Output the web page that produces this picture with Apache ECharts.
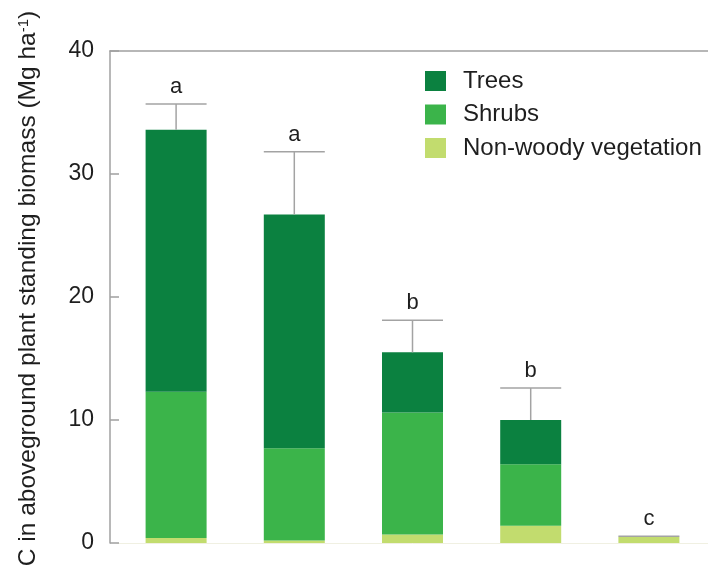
<!DOCTYPE html>
<html>
<head>
<meta charset="utf-8">
<script src="https://cdn.jsdelivr.net/npm/echarts@6/dist/echarts.min.js"></script>
<style>
  html, body { margin: 0; padding: 0; background: #ffffff; }
  #chart { width: 708px; height: 570px; }
</style>
</head>
<body>
<div id="chart"></div>
<script>
// Carbon stocks in aboveground standing biomass, by stand (Mg ha-1)
const categories = ['1', '2', '3', '4', '5'];
const trees      = [21.3, 19.0, 4.9, 3.6, 0];
const shrubs     = [11.9, 7.5, 9.9, 5.0, 0];
const nonWoody   = [0.4, 0.2, 0.7, 1.4, 0.5];
const errUpper   = [2.1, 5.1, 2.6, 2.6, 0.05];
const letters    = ['a', 'a', 'b', 'b', 'c'];
const yTicks     = { min: 0, max: 40, interval: 10 };

const totals = categories.map((_, i) => trees[i] + shrubs[i] + nonWoody[i]);
const errData = categories.map((_, i) => [i, totals[i], totals[i] + errUpper[i]]);

const BAR_W = 61;
const FONT = '"Liberation Sans", Arial, Helvetica, sans-serif';
const AXIS_GREY = '#a0a0a0';
const INK = '#1e1e1e';

const chart = echarts.init(document.getElementById('chart'), null, { renderer: 'canvas' });

chart.setOption({
  animation: false,
  backgroundColor: '#ffffff',
  textStyle: { fontFamily: FONT },
  grid: [
    { left: 117, right: 0, top: 51, bottom: 27, outerBoundsMode: 'none', containLabel: false },
    { left: 110, right: -20, top: 51, bottom: 27, outerBoundsMode: 'none', containLabel: false }
  ],
  legend: {
    orient: 'vertical',
    left: 425,
    top: 69,
    padding: 0,
    itemWidth: 21,
    itemHeight: 20,
    itemGap: 9.5,
    icon: 'rect',
    data: ['Trees', 'Shrubs', 'Non-woody vegetation'],
    textStyle: { fontFamily: FONT, fontSize: 24, color: INK, lineHeight: 24, padding: [0, 0, 0, 12] }
  },
  xAxis: [
    {
      type: 'category',
      gridIndex: 0,
      data: categories,
      axisLine: { show: true, lineStyle: { color: '#f0f0e2', width: 1 } },
      axisTick: { show: false },
      axisLabel: { show: false },
      splitLine: { show: false }
    },
    {
      type: 'value',
      gridIndex: 1,
      position: 'top',
      min: 0, max: 1,
      axisLine: { show: true, onZero: false, lineStyle: { color: AXIS_GREY, width: 1.5 } },
      axisTick: { show: false },
      axisLabel: { show: false },
      splitLine: { show: false }
    }
  ],
  yAxis: [
    {
      type: 'value',
      gridIndex: 0,
      min: yTicks.min, max: yTicks.max, interval: yTicks.interval,
      show: false,
      splitLine: { show: false }
    },
    {
      type: 'value',
      gridIndex: 1,
      min: yTicks.min, max: yTicks.max, interval: yTicks.interval,
      axisLine: { show: true, lineStyle: { color: AXIS_GREY, width: 1.5 } },
      axisTick: { show: true, inside: true, length: 9, lineStyle: { color: AXIS_GREY, width: 1.5 } },
      axisLabel: { fontFamily: FONT, fontSize: 23, color: INK, margin: 16 },
      splitLine: { show: false },
      name: 'C in aboveground plant standing biomass (Mg ha{sup|-1})',
      nameLocation: 'middle',
      nameGap: 69,
      nameTextStyle: {
        fontFamily: FONT,
        fontSize: 24.5,
        color: INK,
        padding: [0, 0, 0, 17],
        rich: {
          sup: { fontFamily: FONT, fontSize: 15, color: INK, padding: [0, 0, 10, 0] }
        }
      }
    }
  ],
  series: [
    {
      name: 'Non-woody vegetation',
      type: 'bar',
      stack: 'biomass',
      barWidth: BAR_W,
      xAxisIndex: 0, yAxisIndex: 0,
      itemStyle: { color: '#c2dc6e' },
      data: nonWoody
    },
    {
      name: 'Shrubs',
      type: 'bar',
      stack: 'biomass',
      barWidth: BAR_W,
      xAxisIndex: 0, yAxisIndex: 0,
      itemStyle: { color: '#3bb44a' },
      data: shrubs
    },
    {
      name: 'Trees',
      type: 'bar',
      stack: 'biomass',
      barWidth: BAR_W,
      xAxisIndex: 0, yAxisIndex: 0,
      itemStyle: { color: '#0b8140' },
      data: trees
    },
    {
      name: 'SE',
      type: 'custom',
      xAxisIndex: 0, yAxisIndex: 0,
      z: 5,
      silent: true,
      data: errData,
      renderItem: function (params, api) {
        const idx = api.value(0);
        const base = api.coord([idx, api.value(1)]);
        const top = api.coord([idx, api.value(2)]);
        const half = BAR_W / 2;
        const stroke = { stroke: '#a3a3a3', lineWidth: 1.5 };
        return {
          type: 'group',
          children: [
            { type: 'line', shape: { x1: base[0], y1: base[1], x2: top[0], y2: top[1] }, style: stroke },
            { type: 'line', shape: { x1: top[0] - half, y1: top[1], x2: top[0] + half, y2: top[1] }, style: stroke },
            {
              type: 'text',
              style: {
                x: top[0], y: top[1] - 17,
                text: letters[params.dataIndex],
                fill: INK,
                font: '22px ' + FONT,
                align: 'center',
                verticalAlign: 'middle'
              }
            }
          ]
        };
      }
    }
  ]
});
</script>
</body>
</html>
